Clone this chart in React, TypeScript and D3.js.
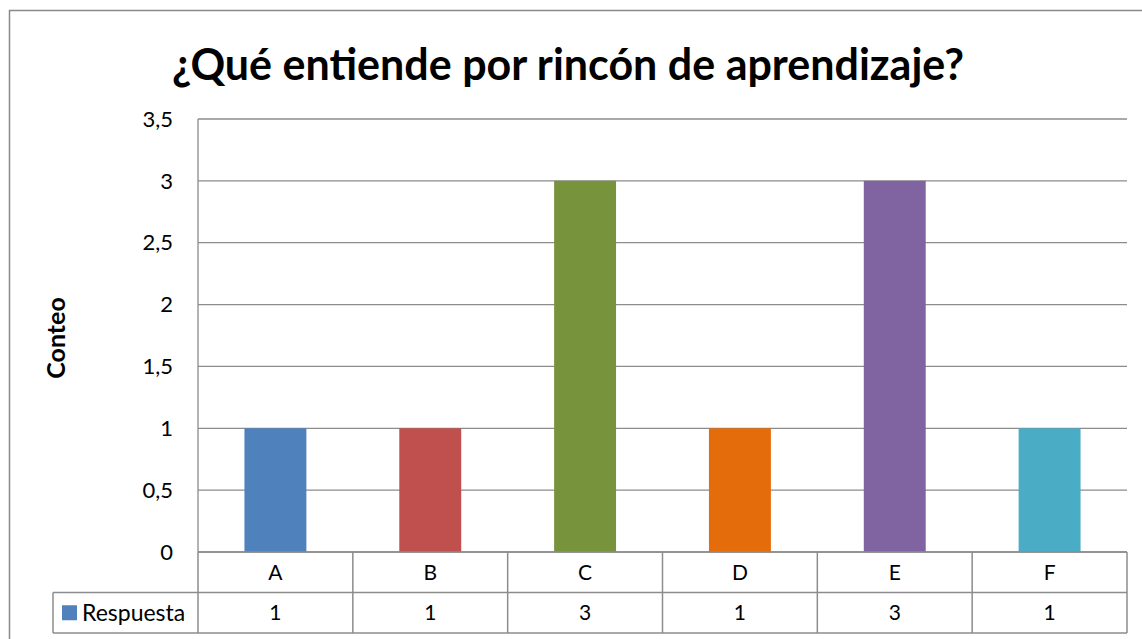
import React from "react";
import * as d3 from "d3";

const categories = ["A", "B", "C", "D", "E", "F"];
const values = [1, 1, 3, 1, 3, 1];
const legendColor = "#4F81BD";
const barColors = ["#4F81BD", "#C0504D", "#77933C", "#E46C0A", "#8064A2", "#4BACC6"];
const yTicks = [0, 0.5, 1, 1.5, 2, 2.5, 3, 3.5];
const title = "¿Qué entiende por rincón de aprendizaje?";
const yLabel = "Conteo";
const seriesName = "Respuesta";

export default function App() {
  const W = 1142, H = 639;
  const left = 198, right = 1127, top = 119, bottom = 552;
  const rowH = 40.5;
  const legendLeft = 53;
  const font = "Lato, 'Open Sans', sans-serif";
  const x = d3.scaleBand<string>().domain(categories).range([left, right]).paddingInner(0).paddingOuter(0);
  const y = d3.scaleLinear().domain([0, 3.5]).range([bottom, top]);
  const bw = x.bandwidth() * 0.4;
  const fmt = (v: number) => String(v).replace(".", ",");
  const grid = "#8C8C8C";
  return (
    <svg width={W} height={H} style={{ position: "absolute", left: 0, top: 0 }} fontFamily={font}>
      <rect x={0} y={0} width={W} height={H} fill="#fff" />
      <rect x={9.5} y={10.5} width={1140} height={640} fill="#fff" stroke="#898989" strokeWidth={1.5} />
      <text x={568} y={80} textAnchor="middle" fontSize={43} fontWeight="bold" fill="#000">{title}</text>
      <text transform={`translate(65,338) rotate(-90)`} textAnchor="middle" fontSize={25} fontWeight="bold">{yLabel}</text>
      {yTicks.map((t) => (
        <g key={t}>
          <line x1={left} x2={right} y1={y(t)} y2={y(t)} stroke={grid} strokeWidth={1.3} />
          <text x={left - 25} y={y(t)} dy="0.35em" textAnchor="end" fontSize={22}>{fmt(t)}</text>
        </g>
      ))}
      <line x1={left} x2={left} y1={top} y2={bottom} stroke={grid} strokeWidth={1.3} />
      {categories.map((c, i) => (
        <rect key={c} x={x(c)! + (x.bandwidth() - bw) / 2} y={y(values[i])} width={bw} height={bottom - y(values[i])} fill={barColors[i]} />
      ))}
      {/* data table */}
      <line x1={left} x2={right} y1={bottom} y2={bottom} stroke={grid} strokeWidth={1.5} />
      <line x1={legendLeft} x2={right} y1={bottom + rowH} y2={bottom + rowH} stroke={grid} strokeWidth={1.5} />
      <line x1={legendLeft} x2={right} y1={bottom + 2 * rowH} y2={bottom + 2 * rowH} stroke={grid} strokeWidth={1.5} />
      <line x1={legendLeft} x2={legendLeft} y1={bottom + rowH} y2={bottom + 2 * rowH} stroke={grid} strokeWidth={1.5} />
      {[...categories.map((c) => x(c)!), right].map((xx, i) => (
        <line key={i} x1={xx} x2={xx} y1={bottom} y2={bottom + 2 * rowH} stroke={grid} strokeWidth={1.5} />
      ))}
      {categories.map((c, i) => (
        <g key={c}>
          <text x={x(c)! + x.bandwidth() / 2} y={bottom + rowH / 2} dy="0.35em" textAnchor="middle" fontSize={21}>{c}</text>
          <text x={x(c)! + x.bandwidth() / 2} y={bottom + rowH * 1.5} dy="0.35em" textAnchor="middle" fontSize={21}>{values[i]}</text>
        </g>
      ))}
      <rect x={62} y={bottom + rowH * 1.5 - 7.5} width={15} height={15} fill={legendColor} />
      <text x={82} y={bottom + rowH * 1.5} dy="0.35em" fontSize={23}>{seriesName}</text>
    </svg>
  );
}
